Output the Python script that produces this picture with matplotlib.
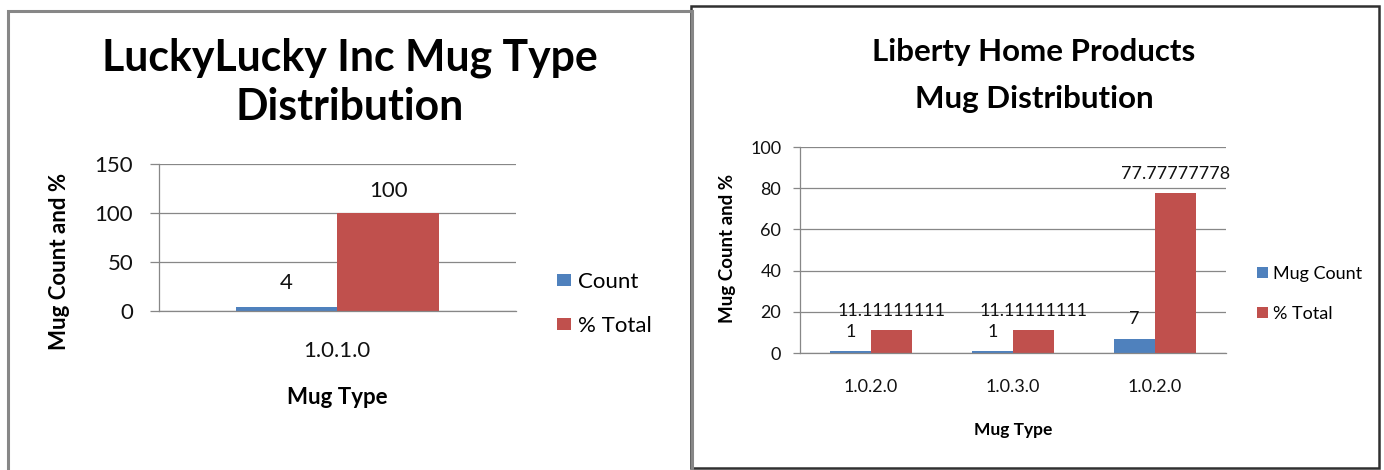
import matplotlib
matplotlib.use("Agg")
import matplotlib.pyplot as plt
from matplotlib.patches import Rectangle

plt.rcParams['font.family'] = ['Lato', 'DejaVu Sans']

# LuckyLucky Inc chart data
lucky_types = ['1.0.1.0']
lucky_count = [4]
lucky_pct = [100]
lucky_series = ['Count', '% Total']

# Liberty Home Products chart data
liberty_types = ['1.0.2.0', '1.0.3.0', '1.0.2.0']
liberty_count = [1, 1, 7]
liberty_pct = [11.11111111, 11.11111111, 77.77777778]
liberty_series = ['Mug Count', '% Total']

BLUE = '#4F81BD'
RED = '#C0504D'
GRID = '#878787'

W, H = 1384, 470
fig = plt.figure(figsize=(W / 100, H / 100), dpi=100)


def fx(px):
    return px / W


def fy(py):
    return 1 - py / H


def axes_rect(x0, x1, y_top, y_bot):
    return [fx(x0), fy(y_bot), fx(x1) - fx(x0), fy(y_top) - fy(y_bot)]


# panel frames
fig.add_artist(Rectangle((fx(691), fy(467.5)), fx(1378.5) - fx(691), fy(6) - fy(467.5),
                         transform=fig.transFigure, fill=False, ec='#303030', lw=1.8, zorder=0))
fig.add_artist(Rectangle((fx(7.5), fy(490)), fx(691.5) - fx(7.5), fy(11) - fy(490),
                         transform=fig.transFigure, fill=False, ec=GRID, lw=2.2, zorder=1))


def style_axes(ax, ymax, step, tick_fs, ytick_len, ypad, xpad):
    ax.set_ylim(0, ymax)
    ax.set_yticks(range(0, ymax + 1, step))
    ax.yaxis.grid(True, color=GRID, lw=0.9)
    ax.set_axisbelow(True)
    for s in ('top', 'right'):
        ax.spines[s].set_visible(False)
    for s in ('left', 'bottom'):
        ax.spines[s].set_color(GRID)
        ax.spines[s].set_linewidth(0.9)
    ax.tick_params(axis='y', length=ytick_len, width=0.9, color=GRID,
                   labelsize=tick_fs, pad=ypad, labelcolor='#111111')
    ax.tick_params(axis='x', length=0, labelsize=tick_fs, pad=xpad, labelcolor='#111111')


def fmt(v):
    return '{:.10g}'.format(v)


# ---- LuckyLucky Inc ----
ax1 = fig.add_axes(axes_rect(159, 515.5, 164.3, 310.7))
w1 = 0.285
x1 = list(range(len(lucky_types)))
b1 = ax1.bar([x - w1 / 2 for x in x1], lucky_count, w1, color=BLUE, label=lucky_series[0])
b2 = ax1.bar([x + w1 / 2 for x in x1], lucky_pct, w1, color=RED, label=lucky_series[1])
ax1.set_xlim(-0.5, len(lucky_types) - 0.5)
ax1.set_xticks(x1)
ax1.set_xticklabels(lucky_types)
style_axes(ax1, 150, 50, 16, 6.5, 12, 22)
ax1.bar_label(b1, labels=[fmt(v) for v in lucky_count], padding=10, fontsize=16, color='#111111')
ax1.bar_label(b2, labels=[fmt(v) for v in lucky_pct], padding=9, fontsize=16, color='#111111')
ax1.set_xlabel('Mug Type', fontsize=16, fontweight='bold')
ax1.set_ylabel('Mug Count and %', fontsize=16, fontweight='bold')
ax1.xaxis.set_label_coords((337 - 159) / 356.5, (310.7 - 397) / 146.4, transform=ax1.transAxes)
ax1.xaxis.label.set_va('center')
ax1.yaxis.set_label_coords((59 - 159) / 356.5, (310.7 - 261) / 146.4, transform=ax1.transAxes)
ax1.yaxis.label.set_va('center')
ax1.legend(loc='center left', bbox_to_anchor=(fx(557), fy(304)), bbox_transform=fig.transFigure,
           frameon=False, fontsize=16, handlelength=0.65, handleheight=0.45,
           handletextpad=0.3, labelspacing=1.1, borderpad=0, borderaxespad=0)

fig.text(fx(350), fy(70), 'LuckyLucky Inc Mug Type', ha='center', va='baseline',
         fontsize=30.8, fontweight='bold')
fig.text(fx(350), fy(120), 'Distribution', ha='center', va='baseline',
         fontsize=30.8, fontweight='bold')

# ---- Liberty Home Products ----
ax2 = fig.add_axes(axes_rect(800, 1226, 147, 353))
w2 = 0.289
x2 = list(range(len(liberty_types)))
c1 = ax2.bar([x - w2 / 2 for x in x2], liberty_count, w2, color=BLUE, label=liberty_series[0])
c2 = ax2.bar([x + w2 / 2 for x in x2], liberty_pct, w2, color=RED, label=liberty_series[1])
ax2.set_xlim(-0.5, len(liberty_types) - 0.5)
ax2.set_xticks(x2)
ax2.set_xticklabels(liberty_types)
style_axes(ax2, 100, 20, 13, 5, 8.5, 19)
ax2.bar_label(c1, labels=[fmt(v) for v in liberty_count], padding=8, fontsize=13, color='#111111')
ax2.bar_label(c2, labels=[fmt(v) for v in liberty_pct], padding=8, fontsize=13, color='#111111')
ax2.set_xlabel('Mug Type', fontsize=12.5, fontweight='bold')
ax2.set_ylabel('Mug Count and %', fontsize=13.5, fontweight='bold')
ax2.xaxis.set_label_coords((1013 - 800) / 426, (353 - 430) / 206, transform=ax2.transAxes)
ax2.xaxis.label.set_va('center')
ax2.yaxis.set_label_coords((727 - 800) / 426, (353 - 248) / 206, transform=ax2.transAxes)
ax2.yaxis.label.set_va('center')
ax2.legend(loc='center left', bbox_to_anchor=(fx(1257), fy(294)), bbox_transform=fig.transFigure,
           frameon=False, fontsize=13, handlelength=0.6, handleheight=0.55,
           handletextpad=0.3, labelspacing=1.3, borderpad=0, borderaxespad=0)

fig.text(fx(1034), fy(61), 'Liberty Home Products', ha='center', va='baseline',
         fontsize=22.5, fontweight='bold')
fig.text(fx(1034), fy(108), 'Mug Distribution', ha='center', va='baseline',
         fontsize=22.5, fontweight='bold')

fig.savefig('out.png', dpi=100, facecolor='white')
